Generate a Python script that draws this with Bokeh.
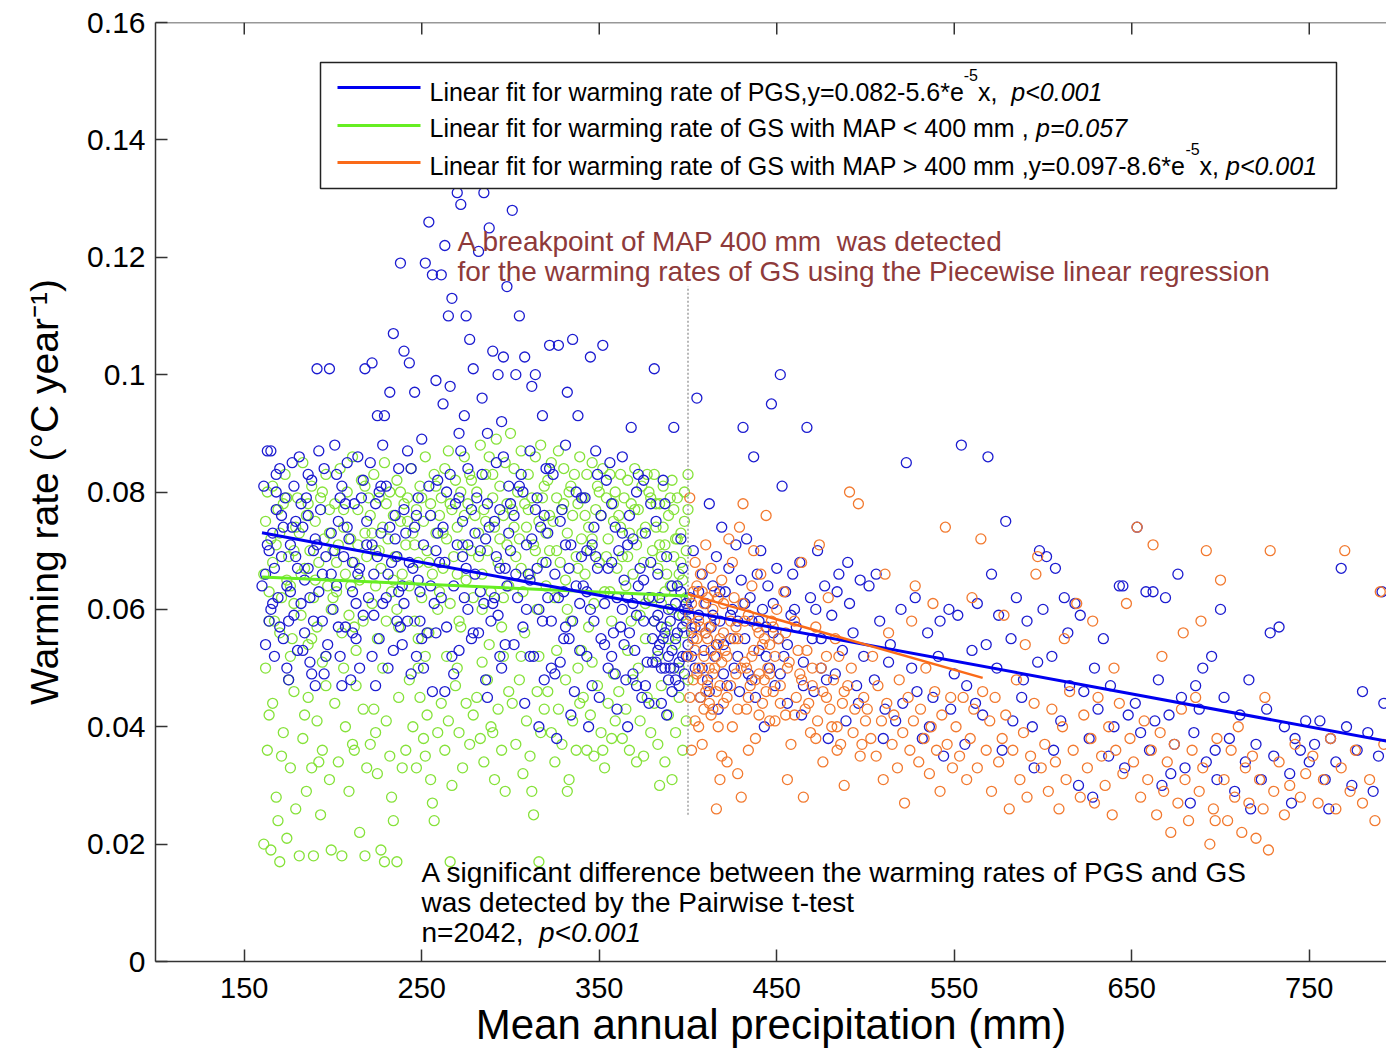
from bokeh.plotting import figure
from bokeh.models import FixedTicker, Label, CustomJSTickFormatter, Range1d, Span
from bokeh.embed import file_html
from bokeh.resources import INLINE

# ---------------- data ----------------
# PGS warming rate vs mean annual precipitation  [MAP mm, rate degC/yr]
pgs_points = [
 (161,.081),(162,.066),(163,.087),(164,.058),(165,.087),(166,.073),(167,.052),(168,.077),(169,.062),(170,.084),
 (171,.069),(172,.055),(173,.079),(174,.064),(175,.048),(176,.071),(177,.085),(178,.059),(179,.075),(180,.067),
 (162,.054),(164,.070),(166,.061),(168,.083),(170,.057),(172,.074),(174,.050),(176,.063),(178,.081),(180,.053),
 (181,.086),(182,.061),(183,.074),(184,.056),(185,.079),(186,.067),(187,.051),(188,.082),(189,.070),(190,.047),
 (191,.101),(192,.063),(193,.077),(194,.058),(195,.084),(196,.069),(197,.054),(198,.101),(199,.073),(200,.060),
 (182,.078),(184,.065),(186,.083),(188,.049),(190,.072),(192,.087),(194,.066),(196,.052),
 (201,.088),(202,.064),(203,.075),(204,.052),(205,.081),(206,.069),(207,.057),(208,.085),(209,.072),(210,.048),
 (211,.063),(212,.078),(213,.055),(214,.086),(215,.067),(216,.079),(217,.059),(218,.101),(219,.071),(220,.062),
 (202,.083),(205,.047),(208,.074),(211,.056),(214,.066),(217,.082),
 (221,.085),(222,.102),(223,.066),(224,.078),(225,.093),(226,.055),(227,.073),(228,.061),(229,.093),(230,.081),
 (231,.050),(232,.097),(233,.068),(234,.107),(235,.076),(236,.058),(237,.084),(238,.119),(239,.064),(240,.104),
 (222,.071),(224,.047),(226,.080),(228,.088),(230,.062),(232,.074),(234,.053),(236,.069),(238,.057),(240,.077),
 (241,.073),(242,.058),(243,.102),(244,.084),(245,.067),(246,.097),(247,.052),(248,.079),(249,.063),(250,.089),
 (251,.071),(252,.119),(253,.056),(254,.126),(255,.076),(256,.117),(257,.061),(258,.099),(259,.082),(260,.068),
 (242,.087),(244,.049),(246,.074),(248,.065),(250,.055),(254,.081),(256,.046),(258,.070),
 (261,.117),(262,.074),(263,.122),(264,.057),(265,.110),(266,.083),(267,.113),(268,.064),(269,.078),(270,.131),
 (271,.053),(272,.129),(273,.069),(274,.093),(275,.110),(276,.060),(277,.106),(278,.077),(279,.101),(280,.066),
 (262,.095),(264,.080),(266,.098),(268,.049),(270,.071),(272,.087),(274,.062),(276,.084),(278,.055),(280,.073),
 (263,.046),(271,.090),
 (281,.079),(282,.121),(283,.063),(284,.096),(285,.131),(286,.072),(287,.090),(288,.125),(289,.058),(290,.104),
 (291,.075),(292,.085),(293,.100),(294,.067),(295,.092),(296,.103),(297,.054),(298,.115),(299,.081),(300,.070),
 (282,.056),(284,.083),(286,.048),(288,.074),(290,.061),(292,.069),(294,.052),(296,.086),(298,.064),(300,.078),
 (287,.045),(293,.059),
 (301,.128),(302,.076),(303,.100),(304,.062),(305,.110),(306,.083),(307,.057),(308,.103),(309,.071),(310,.066),
 (311,.087),(312,.098),(313,.052),(314,.100),(315,.079),(316,.060),(317,.074),(318,.093),(319,.048),(320,.068),
 (302,.054),(305,.081),(308,.044),(311,.065),(314,.077),(316,.040),(318,.058),(320,.084),
 (321,.073),(322,.105),(323,.058),(324,.083),(325,.066),(326,.038),(327,.105),(328,.051),(329,.077),(330,.063),
 (331,.088),(332,.097),(333,.055),(334,.071),(335,.106),(336,.046),(337,.080),(338,.093),(339,.061),(340,.069),
 (322,.084),(325,.049),(328,.075),(331,.057),(334,.042),(337,.064),(340,.079),
 (341,.064),(342,.079),(343,.052),(344,.040),(345,.103),(346,.071),(347,.058),(348,.087),(349,.067),(350,.045),
 (351,.076),(352,.105),(353,.061),(354,.082),(355,.050),(356,.085),(357,.068),(358,.056),(359,.074),(360,.062),
 (343,.070),(346,.047),(349,.083),(353,.054),(357,.078),(360,.043),
 (361,.070),(362,.057),(363,.086),(364,.065),(365,.048),(366,.040),(367,.076),(368,.091),(369,.061),(370,.053),
 (371,.080),(372,.083),(373,.067),(374,.045),(375,.058),(376,.073),(377,.051),(378,.062),(379,.078),(380,.055),
 (363,.060),(366,.071),(369,.049),(372,.064),(375,.082),(378,.044),(364,.054),(371,.059),
 (381,.101),(382,.075),(383,.053),(384,.062),(385,.050),(386,.082),(387,.056),(388,.069),(389,.052),(390,.058),
 (391,.046),(392,.091),(393,.055),(394,.064),(395,.051),(396,.072),(397,.057),(398,.049),(399,.061),(400,.054),
 (381,.058),(383,.066),(385,.044),(387,.078),(389,.060),(391,.053),(393,.048),(395,.059),(397,.067),(399,.052),
 (382,.051),(386,.055),(390,.050),(394,.056),(398,.060),(388,.042),
 # denser core 160-400
 (160,.064),(163,.071),(167,.067),(171,.076),(175,.058),(179,.069),(183,.053),(187,.062),(191,.071),(195,.049),
 (199,.066),(203,.057),(207,.078),(211,.068),(215,.050),(219,.075),(223,.059),(227,.081),(231,.066),(235,.072),
 (239,.054),(243,.068),(247,.076),(251,.050),(255,.064),(259,.073),(263,.068),(267,.052),(271,.079),(275,.067),
 (279,.056),(283,.070),(287,.078),(291,.062),(295,.050),(299,.073),(303,.066),(307,.080),(311,.052),(315,.067),
 (319,.076),(323,.050),(327,.062),(331,.071),(335,.058),(339,.053),(343,.063),(347,.074),(351,.055),(355,.067),
 (359,.049),(363,.073),(367,.056),(371,.047),(375,.065),(379,.068),(383,.059),(387,.050),(391,.064),(395,.047),
 (399,.058),(385,.057),(389,.048),(393,.061),(397,.052),(384,.054),(392,.050),(396,.063),(380,.051),(376,.047),
 (165,.060),(177,.074),(189,.058),(201,.070),(213,.061),(225,.069),(237,.063),(249,.058),(261,.062),(273,.075),
 (285,.061),(297,.067),(309,.060),(321,.062),(333,.067),(345,.060),(357,.052),(369,.072),(168,.080),(186,.076),
 (204,.079),(222,.052),(240,.061),(258,.056),(276,.071),(294,.077),(312,.072),(330,.055),(348,.069),(366,.062),
 # 400-800
 (401,.062),(402,.056),(403,.070),(404,.050),(405,.096),(406,.059),(407,.045),(408,.066),(409,.053),(410,.061),
 (411,.048),(412,.078),(413,.057),(414,.064),(415,.052),(416,.069),(417,.043),(418,.058),(419,.074),(420,.054),
 (421,.063),(422,.047),(423,.067),(424,.055),(425,.060),(426,.050),(427,.071),(428,.058),(429,.046),(430,.065),
 (400,.060),(402,.052),(404,.057),(406,.063),(408,.050),(410,.056),(412,.046),(414,.059),(416,.054),(418,.063),
 (420,.049),(424,.059),(428,.052),(432,.061),(436,.048),(440,.058),(444,.052),(448,.056),(452,.049),(456,.054),
 (460,.060),(465,.047),(470,.055),(475,.050),
 (431,.091),(432,.055),(433,.072),(434,.049),(435,.062),(436,.058),(437,.086),(438,.045),(439,.066),(440,.053),
 (441,.070),(442,.060),(443,.040),(444,.057),(445,.064),(446,.050),(447,.095),(448,.061),(449,.047),(450,.067),
 (451,.055),(452,.100),(453,.081),(454,.052),(455,.063),(456,.044),(458,.059),(459,.066),
 (461,.057),(463,.068),(465,.051),(467,.091),(469,.062),(471,.046),(473,.070),(475,.055),(477,.064),(479,.038),
 (481,.059),(483,.049),(485,.066),(487,.053),(489,.041),(491,.061),(493,.056),(495,.047),(497,.065),(499,.052),
 (464,.042),(472,.060),(478,.048),(484,.063),(490,.068),(496,.044),
 (502,.064),(505,.048),(508,.058),(511,.043),(514,.054),(517,.041),(520,.060),(523,.085),(526,.050),(529,.046),
 (532,.038),(535,.056),(538,.045),(541,.052),(544,.035),(547,.060),(550,.049),(506,.066),(513,.051),(521,.044),
 (528,.062),(536,.040),(542,.058),(548,.043),(510,.038),
 (552,.059),(554,.088),(557,.047),(560,.053),(563,.061),(566,.042),(569,.086),(571,.066),(574,.050),(577,.036),
 (579,.075),(582,.055),(585,.062),(588,.045),(591,.058),(594,.040),(597,.051),(600,.060),(556,.037),(562,.044),
 (568,.054),(575,.059),(583,.041),(589,.048),(595,.033),(598,.070),
 (602,.069),(605,.052),(607,.067),(610,.041),(612,.062),(615,.047),(618,.061),(620,.030),(623,.046),(626,.038),
 (628,.028),(631,.043),(634,.055),(637,.035),(640,.040),(643,.064),(645,.064),(648,.042),(606,.036),(614,.056),
 (621,.059),(629,.050),(638,.047),(646,.033),
 (652,.044),(653,.074),(655,.039),(658,.063),(660,.036),(662,.063),(665,.048),(667,.030),(669,.062),(671,.042),
 (674,.037),(676,.066),(678,.045),(680,.033),(683,.027),(685,.039),(688,.043),(690,.050),(692,.034),(695,.052),
 (697,.036),(700,.060),(663,.041),(672,.032),(686,.047),(698,.031),
 (702,.045),(705,.038),(708,.029),(711,.042),(714,.034),(717,.026),(720,.037),(723,.031),(726,.043),(728,.056),
 (730,.035),(733,.057),(736,.040),(739,.032),(742,.038),(745,.036),(748,.041),(750,.034),(716,.048),(740,.027),
 (753,.037),(756,.041),(759,.031),(762,.038),(765,.034),(768,.067),(771,.040),(774,.030),(777,.036),(780,.046),
 (783,.039),(786,.029),(789,.035),(791,.063),(792,.044),(761,.026),
]

# GS warming rate, MAP < 400 mm
gs_low_points = [
 (161,.066),(163,.080),(165,.072),(167,.058),(169,.077),(171,.062),(173,.083),(175,.069),(177,.055),(179,.074),
 (162,.050),(164,.063),(166,.081),(168,.071),(170,.056),(172,.078),(174,.065),(176,.052),(178,.061),(180,.079),
 (161,.020),(163,.036),(165,.019),(166,.044),(168,.028),(170,.017),(172,.039),(174,.021),(176,.033),(178,.046),
 (179,.026),(164,.042),(171,.035),(175,.048),(169,.024),
 (181,.073),(182,.059),(183,.085),(184,.067),(185,.076),(186,.054),(187,.070),(188,.081),(189,.062),(190,.075),
 (191,.057),(192,.068),(193,.079),(194,.051),(195,.072),(196,.083),(197,.064),(198,.077),(199,.060),(200,.070),
 (181,.018),(183,.038),(185,.029),(186,.045),(188,.033),(189,.018),(191,.041),(193,.025),(194,.036),(196,.047),
 (198,.031),(199,.019),(184,.042),(192,.034),
 (201,.078),(202,.063),(203,.071),(204,.084),(205,.056),(206,.074),(207,.066),(208,.080),(209,.059),(210,.072),
 (211,.086),(212,.068),(213,.053),(214,.077),(215,.065),(216,.082),(217,.058),(218,.073),(219,.069),(220,.079),
 (201,.044),(203,.034),(205,.018),(207,.040),(209,.029),(211,.037),(213,.047),(215,.022),(217,.043),(218,.018),
 (219,.033),(206,.050),(212,.036),
 (221,.076),(222,.061),(223,.083),(224,.070),(225,.055),(226,.079),(227,.067),(228,.074),(229,.085),(230,.058),
 (231,.072),(232,.080),(233,.063),(234,.076),(235,.069),(236,.082),(237,.057),(238,.075),(239,.066),(240,.078),
 (221,.037),(223,.043),(225,.032),(227,.019),(229,.017),(230,.041),(232,.035),(234,.024),(236,.017),(237,.045),
 (239,.033),(224,.039),(233,.028),
 (241,.071),(242,.079),(243,.064),(244,.084),(245,.073),(246,.058),(247,.077),(248,.068),(249,.081),(250,.062),
 (251,.075),(252,.086),(253,.070),(254,.056),(255,.078),(256,.066),(257,.083),(258,.073),(259,.060),(260,.076),
 (241,.036),(243,.048),(245,.040),(247,.033),(249,.045),(251,.038),(253,.042),(255,.031),(256,.027),(257,.024),
 (259,.039),(248,.050),(252,.035),
 (261,.079),(262,.067),(263,.084),(264,.072),(265,.087),(266,.061),(267,.077),(268,.069),(269,.082),(270,.074),
 (271,.058),(272,.080),(273,.071),(274,.086),(275,.065),(276,.078),(277,.083),(278,.070),(279,.062),(280,.076),
 (261,.044),(263,.036),(265,.041),(266,.017),(267,.030),(269,.047),(271,.039),(273,.033),(275,.044),(277,.037),
 (279,.042),(264,.052),(270,.050),
 (281,.080),(282,.073),(283,.088),(284,.066),(285,.077),(286,.083),(287,.070),(288,.086),(289,.063),(290,.079),
 (291,.074),(292,.089),(293,.068),(294,.081),(295,.057),(296,.076),(297,.085),(298,.071),(299,.064),(300,.090),
 (281,.045),(283,.038),(285,.034),(287,.048),(289,.040),(291,.031),(293,.043),(295,.036),(297,.029),(299,.046),
 (284,.051),(290,.039),(296,.052),
 (301,.077),(302,.084),(303,.069),(304,.080),(305,.072),(306,.087),(307,.063),(308,.078),(309,.074),(310,.083),
 (311,.066),(312,.079),(313,.071),(314,.086),(315,.060),(316,.075),(317,.088),(318,.068),(319,.081),(320,.073),
 (301,.044),(303,.037),(305,.048),(307,.032),(309,.041),(311,.035),(313,.025),(315,.046),(316,.017),(317,.039),
 (319,.043),(306,.052),(312,.029),
 (321,.082),(322,.070),(323,.085),(324,.075),(325,.062),(326,.079),(327,.087),(328,.068),(329,.077),(330,.084),
 (331,.065),(332,.073),(333,.080),(334,.058),(335,.076),(336,.083),(337,.069),(338,.078),(339,.086),(340,.072),
 (321,.046),(323,.039),(325,.034),(327,.043),(329,.037),(331,.048),(333,.031),(335,.041),(337,.036),(339,.044),
 (326,.053),(332,.029),(338,.050),
 (341,.079),(342,.066),(343,.083),(344,.074),(345,.070),(346,.085),(347,.061),(348,.077),(349,.081),(350,.068),
 (351,.076),(352,.084),(353,.063),(354,.079),(355,.072),(356,.083),(357,.058),(358,.075),(359,.080),(360,.067),
 (341,.045),(343,.036),(345,.042),(347,.035),(349,.047),(351,.039),(353,.033),(355,.044),(357,.038),(359,.041),
 (346,.051),(352,.036),(358,.049),
 (361,.076),(362,.083),(363,.069),(364,.079),(365,.064),(366,.082),(367,.073),(368,.078),(369,.066),(370,.084),
 (371,.071),(372,.077),(373,.059),(374,.081),(375,.068),(376,.074),(377,.083),(378,.062),(379,.079),(380,.070),
 (361,.046),(363,.038),(365,.043),(367,.036),(369,.048),(371,.034),(373,.041),(375,.035),(377,.045),(379,.039),
 (366,.053),(372,.050),(376,.055),
 (381,.083),(382,.074),(383,.067),(384,.078),(385,.061),(386,.081),(387,.071),(388,.057),(389,.076),(390,.064),
 (391,.082),(392,.069),(393,.054),(394,.079),(395,.066),(396,.073),(397,.059),(398,.080),(399,.070),(400,.077),
 (381,.058),(383,.052),(385,.069),(387,.063),(389,.055),(391,.060),(393,.072),(395,.050),(397,.065),(399,.062),
 (400,.083),(398,.056),
 (381,.044),(383,.037),(385,.047),(387,.034),(389,.042),(391,.031),(393,.039),(395,.045),(397,.036),(399,.041),
 (400,.048),(384,.030),
 # denser core
 (162,.075),(166,.068),(170,.073),(174,.079),(178,.070),(182,.066),(186,.078),(190,.065),(194,.080),(198,.073),
 (202,.068),(206,.077),(210,.064),(214,.071),(218,.081),(222,.073),(226,.070),(230,.078),(234,.065),(238,.080),
 (242,.075),(246,.071),(250,.079),(254,.068),(258,.081),(262,.073),(266,.078),(270,.066),(274,.076),(278,.082),
 (282,.069),(286,.075),(290,.083),(294,.072),(298,.078),(302,.074),(306,.067),(310,.077),(314,.070),(318,.079),
 (322,.076),(326,.070),(330,.078),(334,.081),(338,.067),(342,.076),(346,.072),(350,.080),(354,.069),(358,.078),
 (362,.074),(366,.069),(370,.077),(374,.073),(378,.080),(382,.078),(386,.074),(390,.079),(394,.072),(398,.075),
 (396,.068),(392,.077),(388,.066),(384,.071),(380,.062),
 (164,.058),(176,.064),(188,.055),(200,.062),(212,.057),(224,.064),(236,.060),(248,.055),(260,.063),(272,.057),
 (284,.060),(296,.062),(308,.056),(320,.064),(332,.060),(344,.057),(356,.063),(368,.058),(376,.061),(340,.053),
 (316,.052),(288,.054),(252,.052),(228,.050),(196,.052),
]

# GS warming rate, MAP > 400 mm
gs_high_points = [
 (401,.079),(402,.061),(403,.055),(404,.068),(405,.049),(406,.058),(407,.045),(408,.063),(409,.052),(410,.071),
 (411,.047),(412,.057),(413,.042),(414,.060),(415,.050),(416,.026),(417,.054),(418,.031),(419,.065),(420,.044),
 (401,.059),(402,.036),(403,.048),(404,.053),(405,.064),(406,.040),(407,.057),(408,.037),(409,.061),(410,.046),
 (411,.055),(412,.050),(413,.067),(414,.043),(415,.058),(416,.052),(417,.062),(418,.047),(419,.035),(420,.056),
 (400,.052),(401,.045),(402,.057),(403,.063),(404,.041),(405,.055),(406,.050),(407,.066),(408,.048),(409,.043),
 (410,.056),(411,.062),(412,.044),(413,.053),(414,.049),(415,.063),(416,.046),(417,.040),(418,.055),(419,.051),
 (420,.061),(422,.052),(424,.047),(426,.055),(428,.043),(430,.050),(432,.058),(434,.045),(436,.052),(438,.048),
 (440,.042),(442,.054),(444,.046),(446,.049),(448,.057),(452,.044),(456,.050),(460,.042),(464,.048),(468,.044),
 (472,.038),(476,.046),(480,.043),(484,.040),(488,.046),(455,.056),(462,.053),(470,.050),(478,.052),(486,.037),
 (421,.053),(422,.045),(423,.072),(424,.058),(425,.040),(426,.062),(427,.049),(428,.055),(429,.074),(430,.028),
 (431,.078),(432,.051),(433,.043),(434,.059),(435,.047),(436,.064),(437,.053),(438,.038),(439,.057),(440,.049),
 (441,.066),(442,.044),(443,.055),(444,.076),(445,.050),(446,.041),(447,.058),(448,.046),(449,.052),(450,.060),
 (422,.034),(425,.068),(428,.032),(431,.061),(434,.036),(437,.070),(440,.056),(443,.048),(446,.054),(449,.041),
 (427,.057),(433,.050),
 (451,.055),(452,.047),(454,.063),(455,.042),(457,.051),(458,.037),(460,.058),(461,.045),(463,.049),(464,.068),
 (466,.043),(467,.053),(469,.039),(470,.047),(472,.057),(473,.041),(475,.050),(476,.034),(478,.045),(479,.062),
 (481,.040),(482,.048),(484,.036),(485,.052),(487,.044),(488,.030),(490,.047),(491,.080),(493,.039),(494,.043),
 (496,.078),(497,.035),(499,.045),(500,.041),(456,.031),(465,.028),(474,.071),(483,.055),(492,.050),(498,.037),
 (501,.043),(503,.038),(504,.052),(506,.035),(507,.047),(509,.041),(510,.031),(512,.044),(513,.056),(515,.037),
 (516,.042),(518,.033),(519,.048),(521,.039),(522,.027),(524,.045),(525,.036),(527,.041),(528,.064),(530,.034),
 (531,.043),(533,.038),(534,.050),(536,.032),(537,.040),(539,.046),(540,.036),(542,.029),(543,.042),(545,.074),
 (546,.037),(548,.045),(549,.033),(511,.066),(526,.058),(538,.061),
 (551,.040),(553,.035),(555,.045),(557,.031),(559,.038),(561,.043),(563,.033),(565,.072),(566,.046),(568,.036),
 (570,.041),(571,.029),(573,.045),(575,.034),(577,.038),(579,.042),(581,.026),(583,.036),(585,.048),(587,.031),
 (589,.039),(591,.028),(593,.035),(595,.044),(596,.066),(597,.069),(599,.033),(560,.062),(578,.059),(590,.054),
 (601,.037),(603,.029),(605,.043),(607,.034),(609,.026),(611,.040),(613,.031),(615,.046),(617,.036),(619,.061),
 (621,.028),(623,.042),(625,.033),(627,.038),(629,.027),(631,.045),(633,.035),(635,.030),(637,.040),(639,.025),
 (641,.036),(643,.044),(645,.032),(647,.061),(649,.038),(612,.055),(628,.058),(640,.050),
 (651,.034),(653,.074),(655,.028),(657,.041),(659,.031),(661,.036),(662,.071),(664,.025),(666,.039),(668,.029),
 (670,.034),(672,.022),(674,.037),(676,.027),(678,.043),(680,.031),(682,.024),(684,.036),(686,.045),(688,.029),
 (690,.033),(692,.070),(694,.020),(696,.026),(698,.038),(700,.065),(667,.052),(679,.056),(689,.058),(697,.024),
 (702,.031),(704,.024),(706,.036),(708,.028),(710,.040),(712,.022),(714,.033),(716,.027),(718,.035),(720,.021),
 (722,.031),(724,.026),(727,.019),(728,.070),(730,.029),(733,.034),(736,.025),(739,.030),(742,.037),(745,.028),
 (748,.032),(725,.045),
 (752,.035),(755,.027),(758,.031),(762,.038),(765,.026),(768,.033),(770,.070),(773,.029),(776,.036),(780,.027),
 (784,.031),(787,.024),(790,.063),(792,.037),
]

pgs_map = [p[0] for p in pgs_points]
pgs_rate = [p[1] for p in pgs_points]
gs_low_map = [p[0] for p in gs_low_points]
gs_low_rate = [p[1] for p in gs_low_points]
gs_high_map = [p[0] for p in gs_high_points]
gs_high_rate = [p[1] for p in gs_high_points]

# fitted lines (coefficients from the legend)
pgs_fit_intercept, pgs_fit_slope = 0.082, -5.6e-5
pgs_fit_range = [160, 800]
gs_high_fit_intercept, gs_high_fit_slope = 0.097, -8.6e-5
gs_high_fit_range = [400, 566]
gs_low_fit_map = [160, 400]
gs_low_fit_rate = [0.0655, 0.0623]
breakpoint_map = 400
breakpoint_rate_span = [0.025, 0.115]

x_ticks = [150, 250, 350, 450, 550, 650, 750]
y_ticks = [0, 0.02, 0.04, 0.06, 0.08, 0.10, 0.12, 0.14, 0.16]

# ---------------- layout ----------------
W, H = 1386, 1050
FL, FR, FT, FB = 155, 1386, 22, 961
X_START = 100
PX_PER_MM = 1.775
X_END = X_START + (FR - FL) / PX_PER_MM
Y_END = 0.16

def sx(px):
    return X_START + (px - FL) / PX_PER_MM

def sy(py):
    return (FB - py) / (FB - FT) * Y_END

# Arial / Liberation Sans advance widths (1/1000 em) used to place text pieces side by side
AW = {' ': 278, 'L': 556, 'i': 222, 'n': 556, 'e': 556, 'a': 556, 'r': 333, 'f': 278, 't': 278,
      'o': 556, 'w': 722, 'm': 833, 'g': 556, 'P': 667, 'G': 778, 'S': 667, ',': 278, 'y': 500,
      '=': 584, '.': 278, '-': 333, '*': 389, 'h': 556, 'M': 833, 'A': 667, '<': 584, '>': 584,
      'x': 500, 'p': 556}
for d in "0123456789":
    AW[d] = 556

def tw(text, size):
    return sum(AW.get(c, 556) for c in text) * size / 1000.0

FONT = "Liberation Sans"
C_BLUE_PT, C_GREEN_PT, C_ORANGE_PT = "#1c1cd0", "#86e23a", "#f27a30"
C_BLUE_LN, C_GREEN_LN, C_ORANGE_LN = "#0000f0", "#66ee22", "#fa6a18"
C_ANN = "#8e3a3a"
AX_COL = "#333333"

p = figure(width=W, height=H, x_range=Range1d(X_START, X_END), y_range=Range1d(0, Y_END),
           output_backend="svg", toolbar_location=None,
           min_border_left=FL, min_border_right=0, min_border_top=FT, min_border_bottom=H - FB)
p.outline_line_color = None
p.grid.visible = False
p.background_fill_color = "white"
p.border_fill_color = "white"

for ax in (p.xaxis[0], p.yaxis[0]):
    ax.axis_line_color = AX_COL
    ax.axis_line_width = 1.5
    ax.major_tick_line_color = AX_COL
    ax.major_tick_line_width = 1.5
    ax.major_tick_in = 12
    ax.major_tick_out = 0
    ax.minor_tick_line_color = None
    ax.major_label_text_font = FONT
    ax.major_label_text_color = "black"
    ax.axis_label_text_font = FONT
    ax.axis_label_text_font_style = "normal"
    ax.axis_label_text_color = "black"

p.xaxis[0].ticker = FixedTicker(ticks=x_ticks)
p.xaxis[0].major_label_text_font_size = "29px"
p.xaxis[0].major_label_standoff = 16
p.xaxis[0].axis_label = "Mean annual precipitation (mm)"
p.xaxis[0].axis_label_text_font_size = "42px"
p.xaxis[0].axis_label_standoff = 0

p.yaxis[0].ticker = FixedTicker(ticks=y_ticks)
p.yaxis[0].formatter = CustomJSTickFormatter(code="return Number(tick.toFixed(2)).toString();")
p.yaxis[0].major_label_text_font_size = "30px"
p.yaxis[0].major_label_standoff = 10
p.yaxis[0].axis_label = "Warming rate (\u00b0C year\u207b\u00b9)"
p.yaxis[0].axis_label_text_font_size = "39px"
p.yaxis[0].axis_label_standoff = 18

# top border with inward ticks
p.add_layout(Span(location=Y_END, dimension="width", line_color=AX_COL, line_width=1.5))
p.segment(x0=x_ticks, x1=x_ticks, y0=[Y_END] * len(x_ticks), y1=[sy(FT + 12)] * len(x_ticks),
          line_color=AX_COL, line_width=1.5)

# scatter
p.scatter(gs_low_map, gs_low_rate, marker="circle", size=10, fill_color=None,
          line_color=C_GREEN_PT, line_width=1.3)
p.scatter(pgs_map, pgs_rate, marker="circle", size=10, fill_color=None,
          line_color=C_BLUE_PT, line_width=1.3)
p.scatter(gs_high_map, gs_high_rate, marker="circle", size=10, fill_color=None,
          line_color=C_ORANGE_PT, line_width=1.3)

# breakpoint line
p.line([breakpoint_map, breakpoint_map], breakpoint_rate_span, line_color="#a0a0a0",
       line_width=1.5, line_dash="2 2")

# fit lines
p.line(gs_low_fit_map, gs_low_fit_rate, line_color=C_GREEN_LN, line_width=3)
p.line(pgs_fit_range, [pgs_fit_intercept + pgs_fit_slope * v for v in pgs_fit_range],
       line_color=C_BLUE_LN, line_width=3)
p.line(gs_high_fit_range, [gs_high_fit_intercept + gs_high_fit_slope * v for v in gs_high_fit_range],
       line_color=C_ORANGE_LN, line_width=2.5)

# legend box (drawn by hand)
p.quad(left=sx(320), right=sx(1336), top=sy(62), bottom=sy(188), fill_color="white",
       line_color="#222222", line_width=1.5)
p.segment(x0=[sx(337)] * 3, x1=[sx(420)] * 3, y0=[sy(87), sy(125), sy(162)],
          y1=[sy(87), sy(125), sy(162)], line_color=[C_BLUE_LN, C_GREEN_LN, C_ORANGE_LN], line_width=3)

def lab(px, py, text, size, color="black", style="normal"):
    p.add_layout(Label(x=sx(px), y=sy(py), text=text, text_font=FONT, text_font_size="%dpx" % size,
                       text_color=color, text_font_style=style, text_align="left",
                       text_baseline="middle"))

LG, SUP = 25, 16
row1 = "Linear fit for warming rate of PGS,y=0.082-5.6*e"
row2 = "Linear fit for warming rate of GS with MAP < 400 mm , "
row3 = "Linear fit for warming rate of GS with MAP > 400 mm ,y=0.097-8.6*e"
LX = 429
lab(LX, 91, row1, LG)
x1 = LX + tw(row1, LG)
lab(x1, 74, "-5", SUP)
x1 += tw("-5", SUP)
lab(x1, 91, "x,", LG)
x1 += tw("x,  ", LG)
lab(x1, 91, "p<0.001", LG, style="italic")
lab(LX, 127, row2, LG)
lab(LX + tw(row2, LG), 127, "p=0.057", LG, style="italic")
lab(LX, 165, row3, LG)
x3 = LX + tw(row3, LG)
lab(x3, 148, "-5", SUP)
x3 += tw("-5", SUP)
lab(x3, 165, "x,", LG)
x3 += tw("x, ", LG)
lab(x3, 165, "p<0.001", LG, style="italic")

# annotations
AN = 28
lab(457, 241, "A breakpoint of MAP 400 mm\u00a0 was detected", AN, color=C_ANN)
lab(457, 271, "for the warming rates of GS using the Piecewise linear regression", AN, color=C_ANN)
lab(421, 872, "A significant difference between the warming rates of PGS and GS", AN)
lab(421, 902, "was detected by the Pairwise t-test", AN)
lab(421, 932, "n=2042,", AN)
lab(421 + tw("n=2042,  ", AN), 932, "p<0.001", AN, style="italic")

open("out.html", "w").write(file_html(p, INLINE))
